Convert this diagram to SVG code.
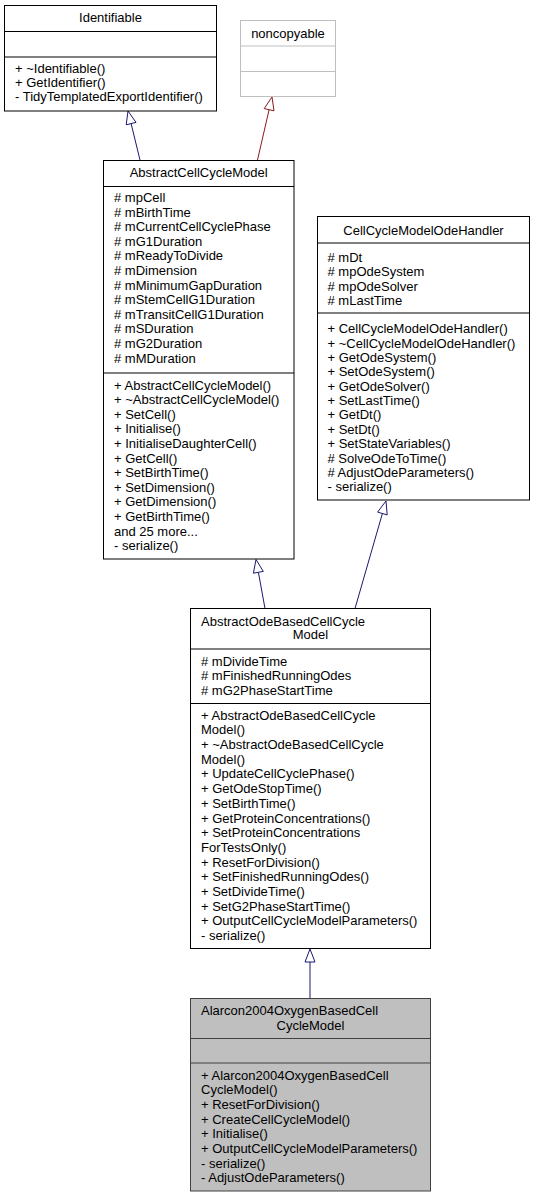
<svg xmlns="http://www.w3.org/2000/svg" width="535" height="1197" viewBox="0 0 535 1197">
<style>
  text { font-family: "Liberation Sans", Arial, sans-serif; font-size: 13px; fill: #000; }
  .c { text-anchor: middle; }
  .box { fill: #fff; stroke: #000; stroke-width: 1; }
  .div { stroke: #000; stroke-width: 1; }
  .grey { fill: #fff; stroke: #bfbfbf; stroke-width: 1; }
  .gdiv { stroke: #bfbfbf; stroke-width: 1; }
  .cur { fill: #bfbfbf; stroke: #404040; stroke-width: 1; }
  .cdiv { stroke: #404040; stroke-width: 1; }
  .pub { fill: none; stroke: #191970; stroke-width: 1; }
  .pubh { fill: #fff; stroke: #191970; stroke-width: 1; }
  .priv { fill: none; stroke: #8b1a1a; stroke-width: 1; }
  .privh { fill: #fff; stroke: #8b1a1a; stroke-width: 1; }
</style>
<rect width="535" height="1197" fill="#fff"/>

<g id="connectors">
  <line class="pub" x1="140" y1="160" x2="131.1" y2="123.6"/>
  <polygon class="pubh" points="128,111 136,122.4 126.2,124.8"/>
  <line class="priv" x1="257.5" y1="160" x2="269.1" y2="109.7"/>
  <polygon class="privh" points="272,97 274,110.8 264.2,108.6"/>
  <line class="pub" x1="265" y1="608.5" x2="258.4" y2="572.3"/>
  <polygon class="pubh" points="256,559.5 263.3,571.4 253.4,573.2"/>
  <line class="pub" x1="355" y1="608.5" x2="382.4" y2="513.5"/>
  <polygon class="pubh" points="386,501 387.2,514.9 377.6,512.1"/>
  <line class="pub" x1="310" y1="998.5" x2="310" y2="962"/>
  <polygon class="pubh" points="310,949 315,962 305,962"/>
</g>

<g id="Identifiable">
  <rect class="box" x="4.5" y="5.5" width="212" height="105.5"/>
  <line class="div" x1="4.5" y1="31.5" x2="216.5" y2="31.5"/>
  <line class="div" x1="4.5" y1="57" x2="216.5" y2="57"/>
  <text class="c" x="110.5" y="22">Identifiable</text>
  <text x="15" y="73">+ ~Identifiable()</text>
  <text x="15" y="87">+ GetIdentifier()</text>
  <text x="15" y="101">- TidyTemplatedExportIdentifier()</text>
</g>

<g id="noncopyable">
  <rect class="grey" x="240.5" y="20.5" width="95" height="76"/>
  <line class="gdiv" x1="240.5" y1="46" x2="335.5" y2="46"/>
  <line class="gdiv" x1="240.5" y1="71.5" x2="335.5" y2="71.5"/>
  <text class="c" x="288" y="37.5">noncopyable</text>
</g>

<g id="AbstractCellCycleModel">
  <rect class="box" x="103.5" y="160.5" width="190.5" height="398.5"/>
  <line class="div" x1="103.5" y1="186.5" x2="294" y2="186.5"/>
  <line class="div" x1="103.5" y1="373" x2="294" y2="373"/>
  <text class="c" x="198.7" y="177">AbstractCellCycleModel</text>
  <text x="114" y="202"># mpCell</text>
  <text x="114" y="216.5"># mBirthTime</text>
  <text x="114" y="231"># mCurrentCellCyclePhase</text>
  <text x="114" y="245.5"># mG1Duration</text>
  <text x="114" y="260"># mReadyToDivide</text>
  <text x="114" y="274.5"># mDimension</text>
  <text x="114" y="289.5"># mMinimumGapDuration</text>
  <text x="114" y="304"># mStemCellG1Duration</text>
  <text x="114" y="318.5"># mTransitCellG1Duration</text>
  <text x="114" y="333"># mSDuration</text>
  <text x="114" y="347.5"># mG2Duration</text>
  <text x="114" y="362.5"># mMDuration</text>
  <text x="114" y="389.5">+ AbstractCellCycleModel()</text>
  <text x="114" y="404">+ ~AbstractCellCycleModel()</text>
  <text x="114" y="418.5">+ SetCell()</text>
  <text x="114" y="433">+ Initialise()</text>
  <text x="114" y="448">+ InitialiseDaughterCell()</text>
  <text x="114" y="462.5">+ GetCell()</text>
  <text x="114" y="477">+ SetBirthTime()</text>
  <text x="114" y="491.5">+ SetDimension()</text>
  <text x="114" y="506">+ GetDimension()</text>
  <text x="114" y="521">+ GetBirthTime()</text>
  <text x="114" y="535.5">and 25 more...</text>
  <text x="114" y="550">- serialize()</text>
</g>

<g id="CellCycleModelOdeHandler">
  <rect class="box" x="317.5" y="216.5" width="212" height="283.5"/>
  <line class="div" x1="317.5" y1="243" x2="529.5" y2="243"/>
  <line class="div" x1="317.5" y1="313" x2="529.5" y2="313"/>
  <text class="c" x="423.5" y="234.5">CellCycleModelOdeHandler</text>
  <text x="327.5" y="261.5"># mDt</text>
  <text x="327.5" y="276"># mpOdeSystem</text>
  <text x="327.5" y="290.5"># mpOdeSolver</text>
  <text x="327.5" y="305"># mLastTime</text>
  <text x="327.5" y="333">+ CellCycleModelOdeHandler()</text>
  <text x="327.5" y="347.5">+ ~CellCycleModelOdeHandler()</text>
  <text x="327.5" y="362">+ GetOdeSystem()</text>
  <text x="327.5" y="376">+ SetOdeSystem()</text>
  <text x="327.5" y="390.5">+ GetOdeSolver()</text>
  <text x="327.5" y="405">+ SetLastTime()</text>
  <text x="327.5" y="419">+ GetDt()</text>
  <text x="327.5" y="433.5">+ SetDt()</text>
  <text x="327.5" y="448">+ SetStateVariables()</text>
  <text x="327.5" y="462.5"># SolveOdeToTime()</text>
  <text x="327.5" y="477"># AdjustOdeParameters()</text>
  <text x="327.5" y="491">- serialize()</text>
</g>

<g id="AbstractOdeBasedCellCycleModel">
  <rect class="box" x="190.5" y="608.5" width="240" height="340"/>
  <line class="div" x1="190.5" y1="649" x2="430.5" y2="649"/>
  <line class="div" x1="190.5" y1="703.5" x2="430.5" y2="703.5"/>
  <text x="201" y="625.5">AbstractOdeBasedCellCycle</text>
  <text class="c" x="310.5" y="639">Model</text>
  <text x="201" y="665.5"># mDivideTime</text>
  <text x="201" y="680"># mFinishedRunningOdes</text>
  <text x="201" y="694.5"># mG2PhaseStartTime</text>
  <text x="201" y="719.5">+ AbstractOdeBasedCellCycle</text>
  <text x="201" y="734.2">Model()</text>
  <text x="201" y="748.9">+ ~AbstractOdeBasedCellCycle</text>
  <text x="201" y="763.6">Model()</text>
  <text x="201" y="778.3">+ UpdateCellCyclePhase()</text>
  <text x="201" y="793">+ GetOdeStopTime()</text>
  <text x="201" y="807.8">+ SetBirthTime()</text>
  <text x="201" y="822.5">+ GetProteinConcentrations()</text>
  <text x="201" y="837.2">+ SetProteinConcentrations</text>
  <text x="201" y="851.9">ForTestsOnly()</text>
  <text x="201" y="866.6">+ ResetForDivision()</text>
  <text x="201" y="881.3">+ SetFinishedRunningOdes()</text>
  <text x="201" y="896">+ SetDivideTime()</text>
  <text x="201" y="910.7">+ SetG2PhaseStartTime()</text>
  <text x="201" y="925.4">+ OutputCellCycleModelParameters()</text>
  <text x="201" y="940">- serialize()</text>
</g>

<g id="Alarcon2004OxygenBasedCellCycleModel">
  <rect class="cur" x="190.5" y="998.5" width="240" height="192.5"/>
  <line class="cdiv" x1="190.5" y1="1038.5" x2="430.5" y2="1038.5"/>
  <line class="cdiv" x1="190.5" y1="1063" x2="430.5" y2="1063"/>
  <text x="201" y="1015">Alarcon2004OxygenBasedCell</text>
  <text class="c" x="310.5" y="1029.5">CycleModel</text>
  <text x="201" y="1079.5">+ Alarcon2004OxygenBasedCell</text>
  <text x="201" y="1094.2">CycleModel()</text>
  <text x="201" y="1108.9">+ ResetForDivision()</text>
  <text x="201" y="1123.6">+ CreateCellCycleModel()</text>
  <text x="201" y="1138.3">+ Initialise()</text>
  <text x="201" y="1153">+ OutputCellCycleModelParameters()</text>
  <text x="201" y="1167.7">- serialize()</text>
  <text x="201" y="1182.4">- AdjustOdeParameters()</text>
</g>
</svg>
